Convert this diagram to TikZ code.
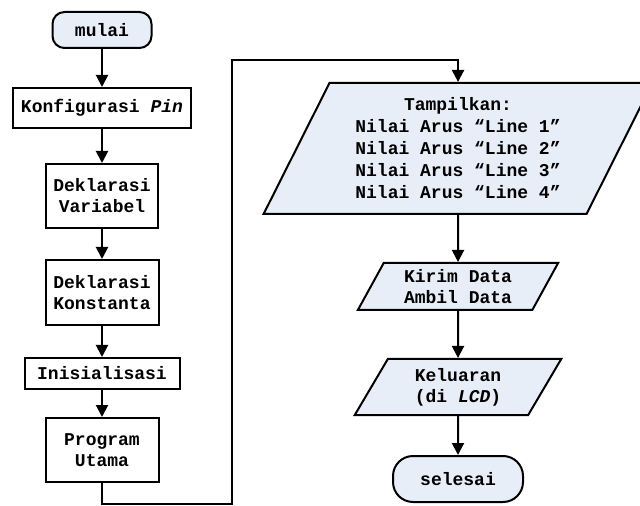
\documentclass[tikz,border=0pt]{standalone}
\usepackage{fontspec}
\setmonofont{Liberation Mono}
\usetikzlibrary{shapes.geometric,arrows.meta}
\definecolor{boxfill}{HTML}{E8EEF8}
\tikzset{
  x=0.5pt, y=-0.5pt,
  every node/.style={font=\ttfamily\bfseries\fontsize{9}{10.5}\selectfont, align=center, line width=1pt, draw=black},
  procbox/.style={rectangle, inner sep=1pt},
  termbox/.style={rectangle, rounded corners=#1, fill=boxfill, inner sep=1pt},
  iobox/.style={trapezium, trapezium left angle=63, trapezium right angle=117, trapezium stretches=true, fill=boxfill, inner sep=1pt},
  flow/.style={line width=1pt, -{Triangle[length=6pt,width=6pt]}},
}
\begin{document}
\begin{tikzpicture}
\useasboundingbox[fill=white] (0,0) rectangle (640,506);
\node[termbox=6pt, minimum width=49.5pt, minimum height=18pt] (mulai) at (102,30) {mulai};
\node[procbox, minimum width=89pt, minimum height=20pt] (konf) at (102,108) {Konfigurasi \textit{Pin}};
\node[procbox, minimum width=56pt, minimum height=32pt] (var) at (102,196) {Deklarasi\\Variabel};
\node[procbox, minimum width=56.5pt, minimum height=32.5pt] (kons) at (102,292.5) {Deklarasi\\Konstanta};
\node[procbox, minimum width=77.5pt, minimum height=15.5pt] (ini) at (102,373.5) {Inisialisasi};
\node[procbox, minimum width=56.5pt, minimum height=32pt] (prog) at (102,450) {Program\\Utama};
\node[iobox, minimum width=194.5pt, minimum height=65.5pt, font=\ttfamily\bfseries\fontsize{9}{11}\selectfont] (tamp) at (458,148.5) {Tampilkan:\\Nilai Arus “Line 1”\\Nilai Arus “Line 2”\\Nilai Arus “Line 3”\\Nilai Arus “Line 4”};
\node[iobox, minimum width=100.5pt, minimum height=23.5pt] (kirim) at (458,286.5) {Kirim Data\\Ambil Data};
\node[iobox, minimum width=103.5pt, minimum height=28pt] (kel) at (458,387) {Keluaran\\(di \textit{LCD})};
\node[termbox=10pt, minimum width=65pt, minimum height=23pt] (sel) at (458,479) {selesai};
\coordinate (c1) at (232,504);
\coordinate (c2) at (232,60);
\draw[flow] (mulai) -- (konf);
\draw[flow] (konf) -- (var);
\draw[flow] (var) -- (kons);
\draw[flow] (kons) -- (ini);
\draw[flow] (ini) -- (prog);
\draw[flow] (prog.south) |- (c1) -- (c2) -| (tamp.north);
\draw[flow] (tamp.south) -- (kirim.north);
\draw[flow] (kirim.south) -- (kel.north);
\draw[flow] (kel.south) -- (sel.north);
\end{tikzpicture}
\end{document}
